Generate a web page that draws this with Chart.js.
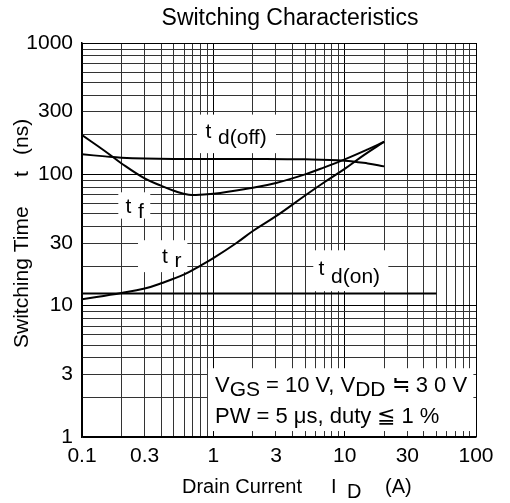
<!DOCTYPE html>
<html>
<head>
<meta charset="utf-8">
<script src="https://cdn.jsdelivr.net/npm/chart.js@4.4.0/dist/chart.umd.min.js"></script>
<style>
  html, body { margin: 0; padding: 0; background: #fff; }
  #wrap { width: 510px; height: 503px; }
</style>
</head>
<body>
<div id="wrap"><canvas id="chart" width="510" height="503"></canvas></div>
<script>
const FONT = '"Liberation Sans", Arial, Helvetica, sans-serif';

// tick labels
const xTickLabels = [0.1, 0.3, 1, 3, 10, 30, 100];
const yTickLabels = [1, 3, 10, 30, 100, 300, 1000];

// drain current (A) / switching time (ns)
const tdOffCurrent = [0.1, 0.15, 0.2, 0.3, 0.5, 1, 2, 5, 10, 15, 20];
const tdOffTime = [142, 137, 134, 132, 131, 131, 131, 130, 127, 121, 115];
const tfCurrent = [0.1, 0.15, 0.2, 0.3, 0.4, 0.5, 0.65, 1, 2, 3, 5, 7, 10, 15, 20];
const tfTime = [199, 150, 121, 93, 82, 75, 70, 71, 79, 86, 100, 113, 130, 155, 177];
const trCurrent = [0.1, 0.2, 0.3, 0.4, 0.6, 0.8, 1, 1.5, 2, 3, 5, 7, 10, 14, 20];
const trTime = [11.2, 12.5, 13.5, 14.8, 17.3, 20.2, 23, 30, 37, 48, 69, 87, 110, 140, 177];
const tdOnCurrent = [0.1, 50];
const tdOnTime = [12.4, 12.4];

// curve labels, placed in data units (box = [x1, x2, y1, y2])
const curveLabels = [
  { text: 't', sub: 'd(off)', x: 0.87, y: 188, drop: 6, box: [0.75, 3.0, 145, 285] },
  { text: 't', sub: 'f', x: 0.214, y: 50.6, drop: 5, box: [0.189, 0.331, 46, 73] },
  { text: 't', sub: 'r', x: 0.406, y: 21, drop: 4, box: [0.267, 0.634, 18, 31.5] },
  { text: 't', sub: 'd(on)', x: 6.31, y: 17.1, drop: 8, box: [5.77, 21.5, 12.9, 26.4] }
];
const condBox = [0.91, 95.5, 1.11, 3.34];

function logGrid(min, max) {
  const out = [];
  for (let d = min; d < max * 0.999; d = +(d * 10).toPrecision(6)) {
    for (let m = 1; m <= 9; m++) out.push(+(m * d).toPrecision(6));
  }
  out.push(max);
  return out;
}
const isLabel = (v, list) => list.some(l => Math.abs(l - v) / l < 1e-6);
const pts = (xs, ys) => xs.map((x, i) => ({ x: x, y: ys[i] }));

// draws text runs, each [string, isSub], left to right
function runs(ctx, x, y, parts, mainFont, subFont, drop) {
  parts.forEach(p => {
    ctx.font = p[1] ? subFont : mainFont;
    ctx.fillText(p[0], x, p[1] ? y + drop : y);
    x += ctx.measureText(p[0]).width;
  });
}

const annotations = {
  id: 'annotations',
  beforeDatasetsDraw(chart) {
    const { ctx, scales: { x, y } } = chart;
    ctx.save();
    ctx.fillStyle = '#fff';
    curveLabels.forEach(l => {
      const x1 = x.getPixelForValue(l.box[0]), x2 = x.getPixelForValue(l.box[1]);
      const y1 = y.getPixelForValue(l.box[3]), y2 = y.getPixelForValue(l.box[2]);
      ctx.fillRect(x1, y1, x2 - x1, y2 - y1);
    });
    const cx1 = x.getPixelForValue(condBox[0]), cx2 = x.getPixelForValue(condBox[1]);
    const cy1 = y.getPixelForValue(condBox[3]), cy2 = y.getPixelForValue(condBox[2]);
    ctx.fillRect(cx1, cy1, cx2 - cx1, cy2 - cy1);

    ctx.fillStyle = '#000';
    ctx.textAlign = 'left';
    ctx.textBaseline = 'alphabetic';
    curveLabels.forEach(l => {
      const px = x.getPixelForValue(l.x), py = y.getPixelForValue(l.y);
      ctx.font = '21px ' + FONT;
      ctx.fillText(l.text, px, py);
      const w = ctx.measureText(l.text + ' ').width;
      ctx.fillText(l.sub, px + w + 1, py + l.drop);
    });
    const main = '22px ' + FONT, sub = '21px ' + FONT;
    runs(ctx, cx1 + 7, cy1 + 24, [['V', 0], ['GS', 1], [' = 10 V, V', 0], ['DD', 1], [' \u2252 3 0 V', 0]], main, sub, 4);
    runs(ctx, cx1 + 7, cy1 + 55, [['PW = 5 \u03bcs, duty \u2266 1 %', 0]], main, sub, 4);
    ctx.restore();
  },
  afterDraw(chart) {
    const ctx = chart.ctx;
    ctx.save();
    ctx.fillStyle = '#000';
    ctx.textBaseline = 'alphabetic';
    ctx.font = '23px ' + FONT;
    ctx.textAlign = 'center';
    ctx.fillText('Switching Characteristics', 290, 25);

    ctx.font = '20px ' + FONT;
    ctx.textAlign = 'left';
    ctx.fillText('Drain Current', 182, 493);
    ctx.fillText('I', 331, 493);
    ctx.fillText('D', 347, 498);
    ctx.fillText('(A)', 385, 493);

    // y title, rotated; pieces start at these heights (bottom to top)
    ctx.font = '21px ' + FONT;
    ctx.translate(28, 0);
    ctx.rotate(-Math.PI / 2);
    ctx.fillText('Switching Time', -348, 0);
    ctx.fillText('t', -177, 0);
    ctx.fillText('(ns)', -155, 0);
    ctx.restore();
  }
};

const lineStyle = { borderColor: '#000', borderWidth: 2, pointRadius: 0, tension: 0.4, fill: false };
const gridColor = ctx => (ctx.tick && [1, 10, 100, 1000, 0.1].includes(ctx.tick.value)) ? '#000' : '#333';

new Chart(document.getElementById('chart'), {
  type: 'line',
  data: {
    datasets: [
      Object.assign({ label: 'td(off)', data: pts(tdOffCurrent, tdOffTime) }, lineStyle),
      Object.assign({ label: 'tf', data: pts(tfCurrent, tfTime) }, lineStyle),
      Object.assign({ label: 'tr', data: pts(trCurrent, trTime) }, lineStyle),
      Object.assign({ label: 'td(on)', data: pts(tdOnCurrent, tdOnTime) }, lineStyle)
    ]
  },
  options: {
    responsive: false,
    animation: false,
    layout: { padding: { top: 43, right: 34, left: 0, bottom: 0 } },
    plugins: { legend: { display: false }, tooltip: { enabled: false } },
    scales: {
      x: {
        type: 'logarithmic',
        min: 0.1,
        max: 100,
        afterBuildTicks: s => { s.ticks = logGrid(0.1, 100).map(v => ({ value: v })); },
        afterFit: s => { s.height = 66; },
        ticks: {
          autoSkip: false,
          maxRotation: 0,
          padding: 7,
          color: '#000',
          font: { family: FONT, size: 21 },
          callback: v => isLabel(v, xTickLabels) ? String(v) : ''
        },
        grid: { color: gridColor, lineWidth: 1, drawTicks: false },
        border: { color: '#000', width: 1.5 }
      },
      y: {
        type: 'logarithmic',
        min: 1,
        max: 1000,
        afterBuildTicks: s => { s.ticks = logGrid(1, 1000).map(v => ({ value: v })); },
        afterFit: s => { s.width = 82; },
        ticks: {
          autoSkip: false,
          padding: 9,
          color: '#000',
          font: { family: FONT, size: 21 },
          callback: v => isLabel(v, yTickLabels) ? String(v) : ''
        },
        grid: { color: gridColor, lineWidth: 1, drawTicks: false },
        border: { color: '#000', width: 1.5 }
      }
    }
  },
  plugins: [annotations]
});
</script>
</body>
</html>
